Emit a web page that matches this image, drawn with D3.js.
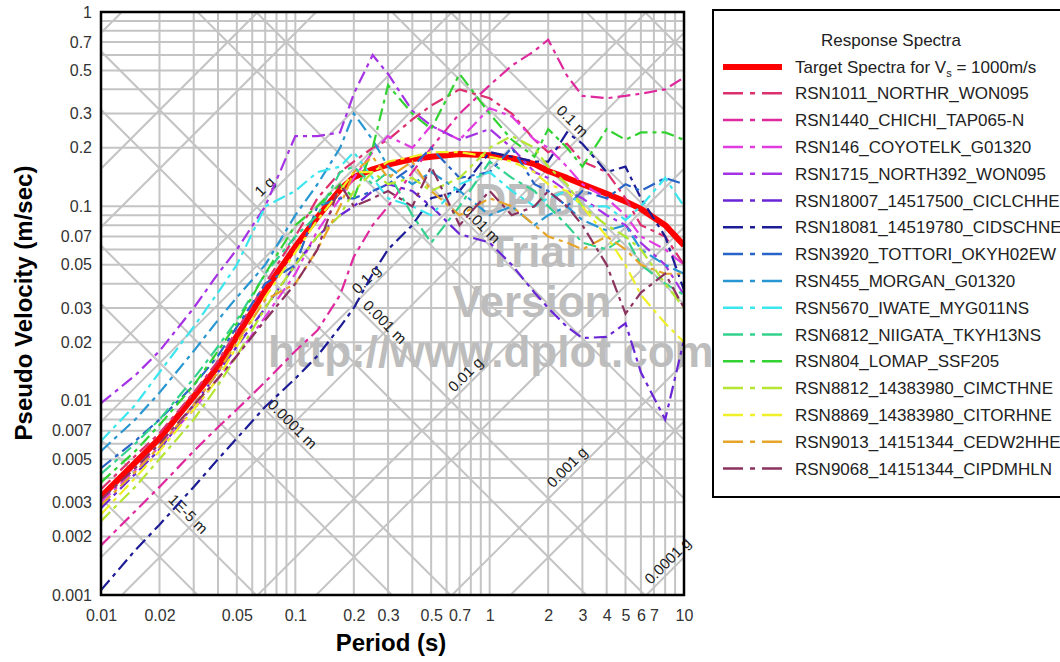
<!DOCTYPE html>
<html>
<head>
<meta charset="utf-8">
<script src="https://cdn.jsdelivr.net/npm/d3@7"></script>
<style>
body { margin: 0; background: #fff; }
svg { font-family: Arial, "Liberation Sans", sans-serif; }
</style>
</head>
<body>
<div id="figure"></div>
<script>
var w = 1060;
var h = 662;
var plot = { left: 101, right: 684, top: 12, bottom: 595 };

// periods (s) shared by every spectrum
var periods = [0.01, 0.015, 0.02, 0.03, 0.04, 0.05, 0.07, 0.1, 0.13, 0.17, 0.2, 0.25, 0.3, 0.4, 0.5, 0.7, 1, 1.3, 1.7, 2, 2.5, 3, 4, 5, 6, 8, 10];

// pseudo velocity (m/s)
var target   = [0.0032, 0.0048, 0.0064, 0.0105, 0.015, 0.0215, 0.037, 0.062, 0.088, 0.122, 0.141, 0.155, 0.164, 0.175, 0.180, 0.186, 0.183, 0.177, 0.165, 0.152, 0.140, 0.130, 0.116, 0.106, 0.097, 0.080, 0.063];
var rsn1011  = [0.0035, 0.0052, 0.0068, 0.011, 0.016, 0.023, 0.040, 0.070, 0.11, 0.15, 0.17, 0.20, 0.22, 0.28, 0.33, 0.40, 0.36, 0.30, 0.22, 0.19, 0.21, 0.17, 0.15, 0.11, 0.08, 0.07, 0.05];
var rsn1440  = [0.0018, 0.0027, 0.0036, 0.0055, 0.0073, 0.009, 0.0125, 0.018, 0.023, 0.035, 0.055, 0.08, 0.10, 0.15, 0.20, 0.30, 0.42, 0.53, 0.63, 0.72, 0.47, 0.37, 0.36, 0.37, 0.38, 0.40, 0.46];
var rsn146   = [0.0030, 0.0044, 0.0058, 0.009, 0.013, 0.017, 0.027, 0.045, 0.075, 0.11, 0.14, 0.19, 0.23, 0.20, 0.26, 0.22, 0.32, 0.29, 0.22, 0.20, 0.16, 0.13, 0.11, 0.09, 0.07, 0.06, 0.05];
var rsn1715  = [0.0097, 0.0135, 0.018, 0.030, 0.045, 0.060, 0.10, 0.23, 0.23, 0.24, 0.38, 0.60, 0.48, 0.31, 0.26, 0.22, 0.25, 0.20, 0.15, 0.14, 0.12, 0.11, 0.09, 0.08, 0.065, 0.05, 0.035];
var rsn18007 = [0.0028, 0.0042, 0.0056, 0.0095, 0.014, 0.019, 0.030, 0.050, 0.07, 0.09, 0.10, 0.12, 0.13, 0.12, 0.10, 0.072, 0.065, 0.05, 0.036, 0.030, 0.024, 0.021, 0.0213, 0.025, 0.014, 0.008, 0.0205];
var rsn18081 = [0.00106, 0.0017, 0.0023, 0.0036, 0.005, 0.0064, 0.0093, 0.013, 0.017, 0.024, 0.030, 0.045, 0.060, 0.08, 0.11, 0.12, 0.19, 0.18, 0.17, 0.17, 0.24, 0.21, 0.15, 0.16, 0.11, 0.07, 0.037];
var rsn3920  = [0.0045, 0.0062, 0.008, 0.012, 0.017, 0.024, 0.040, 0.050, 0.10, 0.11, 0.11, 0.12, 0.13, 0.16, 0.20, 0.14, 0.15, 0.20, 0.13, 0.12, 0.10, 0.12, 0.11, 0.13, 0.12, 0.14, 0.13];
var rsn455   = [0.0055, 0.008, 0.011, 0.018, 0.026, 0.034, 0.050, 0.090, 0.13, 0.20, 0.30, 0.22, 0.16, 0.13, 0.15, 0.12, 0.09, 0.10, 0.08, 0.09, 0.10, 0.085, 0.075, 0.08, 0.06, 0.05, 0.045];
var rsn5670  = [0.0062, 0.0095, 0.014, 0.024, 0.036, 0.050, 0.10, 0.12, 0.15, 0.16, 0.19, 0.14, 0.11, 0.10, 0.09, 0.13, 0.15, 0.12, 0.10, 0.11, 0.12, 0.10, 0.10, 0.085, 0.10, 0.14, 0.10];
var rsn6812  = [0.0042, 0.006, 0.008, 0.013, 0.019, 0.026, 0.045, 0.070, 0.09, 0.15, 0.16, 0.13, 0.15, 0.09, 0.065, 0.10, 0.17, 0.14, 0.12, 0.10, 0.08, 0.065, 0.06, 0.07, 0.05, 0.04, 0.035];
var rsn804   = [0.0038, 0.0055, 0.0075, 0.012, 0.018, 0.025, 0.045, 0.080, 0.10, 0.13, 0.11, 0.20, 0.42, 0.30, 0.25, 0.48, 0.30, 0.22, 0.18, 0.25, 0.20, 0.16, 0.25, 0.22, 0.24, 0.24, 0.22];
var rsn8812  = [0.0024, 0.0036, 0.005, 0.008, 0.012, 0.017, 0.030, 0.050, 0.07, 0.09, 0.12, 0.15, 0.13, 0.14, 0.12, 0.14, 0.20, 0.23, 0.20, 0.16, 0.13, 0.10, 0.08, 0.07, 0.06, 0.04, 0.03];
var rsn8869  = [0.0026, 0.004, 0.0055, 0.009, 0.013, 0.019, 0.034, 0.058, 0.085, 0.12, 0.15, 0.15, 0.17, 0.18, 0.19, 0.19, 0.18, 0.17, 0.15, 0.13, 0.12, 0.10, 0.07, 0.05, 0.035, 0.025, 0.02];
var rsn9013  = [0.0029, 0.0043, 0.0058, 0.0095, 0.014, 0.020, 0.033, 0.040, 0.06, 0.10, 0.15, 0.18, 0.14, 0.17, 0.12, 0.09, 0.11, 0.10, 0.08, 0.07, 0.065, 0.06, 0.07, 0.06, 0.05, 0.045, 0.045];
var rsn9068  = [0.0031, 0.0045, 0.006, 0.0095, 0.013, 0.017, 0.026, 0.040, 0.06, 0.13, 0.10, 0.11, 0.12, 0.10, 0.16, 0.08, 0.12, 0.09, 0.10, 0.12, 0.10, 0.08, 0.05, 0.028, 0.036, 0.045, 0.03];

var seriesNames = ["RSN1011_NORTHR_WON095", "RSN1440_CHICHI_TAP065-N", "RSN146_COYOTELK_G01320", "RSN1715_NORTH392_WON095",
	"RSN18007_14517500_CICLCHHE", "RSN18081_14519780_CIDSCHNE", "RSN3920_TOTTORI_OKYH02EW", "RSN455_MORGAN_G01320",
	"RSN5670_IWATE_MYG011NS", "RSN6812_NIIGATA_TKYH13NS", "RSN804_LOMAP_SSF205", "RSN8812_14383980_CIMCTHNE",
	"RSN8869_14383980_CITORHNE", "RSN9013_14151344_CEDW2HHE", "RSN9068_14151344_CIPDMHLN"];
var seriesValues = [rsn1011, rsn1440, rsn146, rsn1715, rsn18007, rsn18081, rsn3920, rsn455, rsn5670, rsn6812, rsn804, rsn8812, rsn8869, rsn9013, rsn9068];
var seriesColors = ["#dc2f6e", "#e0289e", "#e03ce0", "#a632e6", "#6a26d6", "#1c1c96", "#2864c8", "#2896d2",
	"#3ce6ee", "#32d28c", "#32d232", "#b4e632", "#f0f028", "#e6a528", "#8c325f"];

var xTicks = [0.01, 0.02, 0.05, 0.1, 0.2, 0.3, 0.5, 0.7, 1, 2, 3, 4, 5, 6, 7, 10];
var yTicks = [0.001, 0.002, 0.003, 0.005, 0.007, 0.01, 0.02, 0.03, 0.05, 0.07, 0.1, 0.2, 0.3, 0.5, 0.7, 1];

// tripartite grid: constant acceleration (g) and constant displacement (m)
var accelValues = [1e-4, 5e-4, 1e-3, 5e-3, 0.01, 0.05, 0.1, 0.5, 1, 5, 10, 50];
var dispValues = [5e-6, 1e-5, 5e-5, 1e-4, 5e-4, 1e-3, 5e-3, 0.01, 0.05, 0.1, 0.5, 1];
var accelLabels = ["1 g", "0.1 g", "0.01 g", "0.001 g", "0.0001 g"];
var accelLabelValues = [1, 0.1, 0.01, 0.001, 0.0001];
var accelLabelPeriods = [0.075, 0.25, 0.81, 2.7, 8.9];
var dispLabels = ["0.1 m", "0.01 m", "0.001 m", "0.0001 m", "1E-5 m"];
var dispLabelValues = [0.1, 0.01, 0.001, 0.0001, 0.00001];
var dispLabelPeriods = [2.47, 0.84, 0.267, 0.0895, 0.026];

var G = 9.81;
var TWO_PI = 2 * Math.PI;

var svg = d3.select('#figure')
	.append('svg')
	.attr('width', w)
	.attr('height', h);

var x = d3.scaleLog().domain([0.01, 10]).range([plot.left, plot.right]);
var y = d3.scaleLog().domain([0.001, 1]).range([plot.bottom, plot.top]);

svg.append('clipPath')
	.attr('id', 'plotclip')
	.append('rect')
	.attr('x', plot.left)
	.attr('y', plot.top)
	.attr('width', plot.right - plot.left)
	.attr('height', plot.bottom - plot.top);

var grid = svg.append('g')
	.attr('clip-path', 'url(#plotclip)')
	.attr('stroke', '#c4c4c4')
	.attr('stroke-width', 2)
	.attr('fill', 'none');

//Vertical and horizontal gridlines, 1..9 in every decade
var xGrid = [];
var yGrid = [];
for (var e = -3; e <= 0; e++) {
	for (var m = 1; m <= 9; m++) {
		var v = m * Math.pow(10, e);
		if (v >= 0.001 && v <= 1) yGrid.push(v);
		if (v * 10 >= 0.01 && v * 10 <= 10) xGrid.push(v * 10);
	}
}
xGrid.push(10);
yGrid.push(1);

grid.selectAll('line.vx')
	.data(xGrid)
	.enter()
	.append('line')
	.attr('x1', function(d){ return x(d); })
	.attr('x2', function(d){ return x(d); })
	.attr('y1', plot.top)
	.attr('y2', plot.bottom);

grid.selectAll('line.hy')
	.data(yGrid)
	.enter()
	.append('line')
	.attr('x1', plot.left)
	.attr('x2', plot.right)
	.attr('y1', function(d){ return y(d); })
	.attr('y2', function(d){ return y(d); });

//Diagonal gridlines
function accelPSV(g, T){ return g * G * T / TWO_PI; }
function dispPSV(D, T){ return TWO_PI * D / T; }

var diagLine = d3.line()
	.x(function(d){ return x(d[0]); })
	.y(function(d){ return y(d[1]); });

grid.selectAll('path.accel')
	.data(accelValues)
	.enter()
	.append('path')
	.attr('d', function(g){
		return diagLine([[0.01, accelPSV(g, 0.01)], [10, accelPSV(g, 10)]]);
	});

grid.selectAll('path.disp')
	.data(dispValues)
	.enter()
	.append('path')
	.attr('d', function(D){
		return diagLine([[0.01, dispPSV(D, 0.01)], [10, dispPSV(D, 10)]]);
	});

//Watermark
var wm = svg.append('g')
	.attr('fill', '#bdbdbd')
	.attr('font-weight', 'bold')
	.attr('font-size', 44);
wm.append('text').attr('x', 532).attr('y', 215).attr('text-anchor', 'middle').text('DPlot');
wm.append('text').attr('x', 532).attr('y', 267).attr('text-anchor', 'middle').text('Trial');
wm.append('text').attr('x', 532).attr('y', 317).attr('text-anchor', 'middle').text('Version');
wm.append('text').attr('x', 268).attr('y', 367).text('http://www.dplot.com');

//Diagonal labels
var labels = svg.append('g')
	.attr('font-size', 15)
	.attr('fill', '#222')
	.attr('text-anchor', 'middle');

accelLabels.forEach(function(txt, i){
	var T = accelLabelPeriods[i];
	var px = x(T), py = y(accelPSV(accelLabelValues[i], T));
	labels.append('text')
		.attr('transform', 'translate(' + px + ',' + py + ') rotate(-45)')
		.attr('y', -4)
		.text(txt);
});

dispLabels.forEach(function(txt, i){
	var T = dispLabelPeriods[i];
	var px = x(T), py = y(dispPSV(dispLabelValues[i], T));
	labels.append('text')
		.attr('transform', 'translate(' + px + ',' + py + ') rotate(45)')
		.attr('y', -4)
		.text(txt);
});

//Spectra
var curves = svg.append('g')
	.attr('clip-path', 'url(#plotclip)')
	.attr('fill', 'none');

var specLine = d3.line()
	.x(function(d, i){ return x(periods[i]); })
	.y(function(d){ return y(d); });

curves.append('path')
	.attr('d', specLine(target))
	.attr('stroke', '#ff0000')
	.attr('stroke-width', 6)
	.attr('stroke-linejoin', 'round');

curves.selectAll('path.rsn')
	.data(seriesValues)
	.enter()
	.append('path')
	.attr('d', function(d){ return specLine(d); })
	.attr('stroke', function(d, i){ return seriesColors[i]; })
	.attr('stroke-width', 2.2)
	.attr('stroke-dasharray', '13,5,4,5');

//Axes
var xAxis = d3.axisBottom(x)
	.tickValues(xTicks)
	.tickFormat(d3.format('~g'))
	.tickSize(0)
	.tickPadding(15);

var gx = svg.append('g')
	.attr('transform', 'translate(0,' + plot.bottom + ')')
	.call(xAxis);
gx.select('.domain').remove();
gx.selectAll('text').attr('font-size', 16).attr('fill', '#333').attr('font-family', 'Arial, "Liberation Sans", sans-serif');

var yAxis = d3.axisLeft(y)
	.tickValues(yTicks)
	.tickFormat(d3.format('~g'))
	.tickSize(0)
	.tickPadding(9);

var gy = svg.append('g')
	.attr('transform', 'translate(' + plot.left + ',0)')
	.call(yAxis);
gy.select('.domain').remove();
gy.selectAll('text').attr('font-size', 16).attr('fill', '#333').attr('font-family', 'Arial, "Liberation Sans", sans-serif');

//Frame
svg.append('rect')
	.attr('x', plot.left)
	.attr('y', plot.top)
	.attr('width', plot.right - plot.left)
	.attr('height', plot.bottom - plot.top)
	.attr('fill', 'none')
	.attr('stroke', '#000')
	.attr('stroke-width', 2.5);

//Axis titles
svg.append('text')
	.attr('x', 391)
	.attr('y', 651)
	.attr('text-anchor', 'middle')
	.attr('font-size', 24)
	.attr('font-weight', 'bold')
	.text('Period (s)');

svg.append('text')
	.attr('transform', 'translate(23,303) rotate(-90)')
	.attr('text-anchor', 'middle')
	.attr('dominant-baseline', 'central')
	.attr('font-size', 24)
	.attr('font-weight', 'bold')
	.text('Pseudo Velocity (m/sec)');

//Legend
var legend = svg.append('g');
legend.append('rect')
	.attr('x', 713)
	.attr('y', 10)
	.attr('width', 400)
	.attr('height', 487)
	.attr('fill', '#fff')
	.attr('stroke', '#000')
	.attr('stroke-width', 2);

legend.append('text')
	.attr('x', 891)
	.attr('y', 46)
	.attr('text-anchor', 'middle')
	.attr('font-size', 17)
	.attr('fill', '#222')
	.text('Response Spectra');

legend.append('line')
	.attr('x1', 723).attr('x2', 782)
	.attr('y1', 67).attr('y2', 67)
	.attr('stroke', '#ff0000')
	.attr('stroke-width', 6);

var tt = legend.append('text')
	.attr('x', 795)
	.attr('y', 73)
	.attr('font-size', 17)
	.attr('fill', '#222');
tt.append('tspan').text('Target Spectra for V');
tt.append('tspan').attr('font-size', 11).attr('dy', 4).text('s');
tt.append('tspan').attr('dy', -4).text(' = 1000m/s');

var rows = legend.selectAll('g.row')
	.data(seriesNames)
	.enter()
	.append('g')
	.attr('transform', function(d, i){ return 'translate(0,' + (93.3 + i * 26.8) + ')'; });

rows.append('line')
	.attr('x1', 723).attr('x2', 782)
	.attr('y1', 0).attr('y2', 0)
	.attr('stroke', function(d, i){ return seriesColors[i]; })
	.attr('stroke-width', 2.5)
	.attr('stroke-dasharray', '20,7,5,7');

rows.append('text')
	.attr('x', 795)
	.attr('y', 6)
	.attr('font-size', 17)
	.attr('fill', '#222')
	.text(function(d){ return d; });
</script>
</body>
</html>
